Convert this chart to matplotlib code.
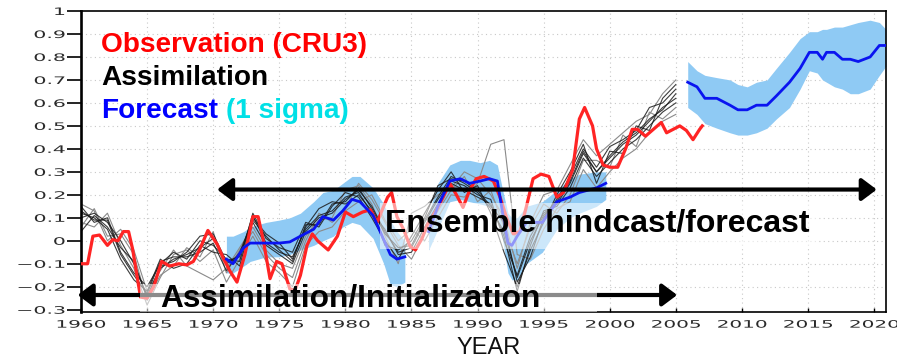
import numpy as np
import matplotlib
matplotlib.use("Agg")
import matplotlib.pyplot as plt
from matplotlib.patches import Rectangle
from matplotlib.patheffects import AbstractPathEffect
from matplotlib.transforms import Affine2D
from matplotlib.path import Path

# ---------------- data ----------------
obs_year = [1960.0, 1960.5, 1960.9, 1961.4, 1962.0, 1962.4, 1962.8, 1963.2, 1963.6, 1963.9,
            1964.5, 1965.0, 1965.5, 1966.1, 1966.7, 1967.4, 1968.0, 1968.5, 1969.0, 1969.6,
            1970.3, 1970.8, 1971.3, 1971.8, 1972.4, 1973.0, 1973.4, 1973.8, 1974.3, 1974.8,
            1975.2, 1975.8, 1976.2, 1976.6, 1977.1, 1977.5, 1977.9, 1978.7, 1979.4, 1980.0,
            1980.6, 1981.3, 1981.9, 1982.4, 1982.9, 1983.2, 1983.5, 1983.9, 1984.4, 1984.9,
            1985.3, 1985.8, 1986.2, 1986.9, 1987.4, 1987.9, 1988.4, 1988.9, 1989.4, 1989.9,
            1990.5, 1991.2, 1991.7, 1992.2, 1992.7, 1993.2, 1993.7, 1994.2, 1994.8, 1995.4,
            1996.0, 1996.5, 1997.2, 1997.7, 1998.1, 1998.7, 1999.0, 1999.5, 2000.0, 2000.6,
            2001.2, 2001.7, 2002.1, 2002.7, 2003.0, 2003.6, 2003.9, 2004.3, 2004.8, 2005.3,
            2005.8, 2006.3, 2006.8, 2007.0]
obs_val = [-0.10, -0.10, 0.02, 0.025, -0.02, 0.005, 0.0, 0.04, 0.04, -0.035,
           -0.245, -0.25, -0.20, -0.09, -0.11, -0.10, -0.105, -0.09, -0.035, 0.045,
           -0.015, -0.08, -0.135, -0.18, -0.06, 0.105, 0.105, 0.0, -0.165, -0.09,
           -0.10, -0.21, -0.215, -0.15, -0.02, 0.03, 0.0, -0.04, 0.02, 0.125,
           0.105, 0.125, 0.135, 0.08, 0.15, 0.19, 0.21, 0.105, 0.05, -0.025,
           -0.04, 0.01, 0.07, 0.135, 0.19, 0.25, 0.20, 0.145, 0.22, 0.27,
           0.28, 0.26, 0.19, 0.10, 0.03, 0.04, 0.15, 0.27, 0.29, 0.28,
           0.19, 0.21, 0.31, 0.53, 0.58, 0.50, 0.40, 0.33, 0.32, 0.32,
           0.40, 0.485, 0.485, 0.455, 0.47, 0.50, 0.515, 0.47, 0.485, 0.50,
           0.48, 0.44, 0.485, 0.50]

assim_year = list(range(1960, 2006))
assim_m1 = [0.10, 0.12, 0.08, 0.00, -0.10, -0.24, -0.12, -0.08, -0.06, -0.03, 0.01, -0.10, -0.06, 0.08, -0.02, -0.06,
            -0.10, 0.04, 0.10, 0.12, 0.18, 0.22, 0.15, 0.04, -0.05, -0.03, 0.08, 0.18, 0.26, 0.24, 0.20, 0.18,
            0.00, -0.15, 0.02, 0.12, 0.16, 0.25, 0.38, 0.30, 0.36, 0.42, 0.46, 0.52, 0.58, 0.62]
assim_m2 = [0.15, 0.08, 0.10, -0.05, -0.14, -0.20, -0.10, -0.05, -0.08, 0.00, -0.02, -0.08, -0.09, 0.12, 0.01, -0.03,
            -0.05, 0.08, 0.06, 0.15, 0.21, 0.19, 0.10, 0.00, -0.08, 0.02, 0.12, 0.22, 0.30, 0.21, 0.24, 0.12,
            -0.05, -0.20, -0.04, 0.08, 0.20, 0.30, 0.42, 0.25, 0.39, 0.38, 0.50, 0.48, 0.62, 0.68]
assim_m3 = [0.06, 0.14, 0.02, 0.03, -0.06, -0.26, -0.15, -0.11, -0.03, -0.07, 0.04, -0.14, -0.04, 0.04, -0.06, -0.12,
            -0.16, 0.00, 0.12, 0.08, 0.14, 0.25, 0.18, 0.08, -0.02, -0.08, 0.03, 0.13, 0.22, 0.28, 0.17, 0.22,
            0.06, -0.10, 0.06, 0.16, 0.12, 0.20, 0.35, 0.35, 0.32, 0.46, 0.41, 0.56, 0.53, 0.58]
assim_m4 = [0.12, 0.10, 0.05, -0.08, -0.17, -0.22, -0.08, -0.12, -0.10, -0.02, -0.05, -0.06, -0.11, 0.10, 0.03, -0.01,
            -0.08, 0.06, 0.14, 0.17, 0.16, 0.20, 0.13, -0.02, -0.04, 0.00, 0.10, 0.24, 0.27, 0.26, 0.22, 0.15,
            0.08, -0.18, -0.07, 0.10, 0.18, 0.28, 0.40, 0.32, 0.41, 0.44, 0.48, 0.58, 0.60, 0.66]
assim_m5 = [0.08, 0.06, 0.12, -0.02, -0.12, -0.28, -0.16, -0.06, -0.04, -0.09, -0.04, -0.18, -0.08, 0.02, -0.09, -0.14,
            -0.20, -0.02, 0.04, 0.06, 0.13, 0.17, 0.20, 0.09, 0.00, 0.05, 0.00, 0.10, 0.20, 0.19, 0.25, 0.42,
            0.44, -0.06, -0.08, 0.05, 0.14, 0.17, 0.31, 0.23, 0.30, 0.36, 0.40, 0.47, 0.52, 0.55]
assim_m6 = [0.16, 0.13, 0.00, 0.05, -0.04, -0.22, -0.13, -0.04, -0.11, -0.14, -0.17, -0.12, -0.03, 0.06, -0.04, -0.10,
            -0.12, 0.02, 0.09, 0.10, 0.22, 0.24, 0.16, 0.02, -0.10, 0.12, 0.15, 0.20, 0.23, 0.30, 0.27, 0.20,
            0.10, -0.12, 0.08, 0.20, 0.22, 0.33, 0.44, 0.37, 0.42, 0.47, 0.52, 0.55, 0.64, 0.70]
assim_m7 = [0.04, 0.11, 0.06, -0.03, -0.09, -0.25, -0.11, -0.09, -0.05, 0.02, 0.03, -0.09, -0.07, 0.11, -0.01, -0.05,
            -0.07, 0.05, 0.11, 0.13, 0.19, 0.21, 0.12, 0.05, -0.06, -0.05, 0.06, 0.16, 0.25, 0.22, 0.19, 0.16,
            0.02, -0.22, -0.02, 0.13, 0.15, 0.23, 0.36, 0.28, 0.34, 0.40, 0.44, 0.50, 0.56, 0.60]
assim_m8 = [0.13, 0.09, 0.09, -0.06, -0.15, -0.23, -0.09, -0.07, -0.07, -0.05, -0.01, -0.13, -0.05, 0.09, 0.02, -0.04,
            -0.09, 0.07, 0.07, 0.16, 0.17, 0.23, 0.14, 0.03, -0.03, -0.02, 0.09, 0.19, 0.28, 0.25, 0.21, 0.14,
            0.04, -0.16, 0.00, 0.11, 0.17, 0.26, 0.39, 0.30, 0.37, 0.43, 0.47, 0.53, 0.57, 0.64]
assim_dark = [assim_m1, assim_m2, assim_m4, assim_m7, assim_m8]
assim_light = [assim_m3, assim_m5, assim_m6]

hind1_year = [1971.0, 1971.5, 1972.3, 1972.8, 1974.0, 1975.0, 1975.8, 1976.6, 1977.6, 1978.3,
              1979.1, 1979.8, 1980.5, 1981.1, 1982.1, 1982.9, 1983.4, 1983.9, 1984.5]
hind1_mean = [-0.08, -0.10, -0.03, -0.01, -0.01, -0.01, -0.005, 0.02, 0.05, 0.105,
              0.09, 0.13, 0.18, 0.17, 0.11, 0.005, -0.06, -0.08, -0.07]
hind1_hi = [0.02, 0.02, 0.04, 0.06, 0.08, 0.09, 0.10, 0.12, 0.17, 0.21,
            0.22, 0.25, 0.28, 0.28, 0.23, 0.16, 0.09, 0.04, 0.0]
hind1_lo = [-0.14, -0.14, -0.11, -0.09, -0.07, -0.07, -0.06, -0.04, -0.02, 0.0,
            0.02, 0.06, 0.08, 0.07, 0.01, -0.10, -0.19, -0.20, -0.18]

hind2_year = [1986.3, 1987.0, 1987.9, 1988.7, 1989.4, 1990.2, 1990.9, 1991.5, 1991.9, 1992.3,
              1992.6, 1993.0, 1993.7, 1994.9, 1996.0, 1997.0, 1997.7, 1999.0, 1999.7]
hind2_mean = [0.04, 0.15, 0.26, 0.27, 0.25, 0.26, 0.27, 0.26, 0.12, -0.01,
              -0.02, 0.02, 0.08, 0.08, 0.17, 0.19, 0.21, 0.23, 0.25]
hind2_hi = [0.12, 0.25, 0.33, 0.35, 0.35, 0.34, 0.35, 0.33, 0.22, 0.12,
            0.10, 0.10, 0.15, 0.17, 0.22, 0.27, 0.29, 0.30, 0.30]
hind2_lo = [-0.04, 0.05, 0.17, 0.18, 0.17, 0.16, 0.15, 0.12, 0.0, -0.14,
            -0.17, -0.17, -0.10, -0.05, 0.05, 0.10, 0.12, 0.15, 0.18]

fcst_year = [2005.9, 2006.6, 2007.2, 2008.1, 2009.1, 2009.7, 2010.4, 2011.1, 2011.9, 2012.6,
             2013.6, 2014.4, 2015.1, 2015.7, 2016.1, 2016.4, 2017.0, 2017.6, 2018.2, 2018.8,
             2019.7, 2020.4, 2020.9]
fcst_mean = [0.69, 0.67, 0.62, 0.62, 0.59, 0.57, 0.57, 0.59, 0.59, 0.63,
             0.69, 0.75, 0.82, 0.82, 0.79, 0.82, 0.82, 0.79, 0.79, 0.78,
             0.80, 0.85, 0.85]
fcst_hi = [0.78, 0.74, 0.72, 0.71, 0.70, 0.68, 0.67, 0.69, 0.70, 0.75,
           0.82, 0.88, 0.91, 0.91, 0.92, 0.92, 0.93, 0.93, 0.94, 0.95,
           0.96, 0.95, 0.92]
fcst_lo = [0.58, 0.55, 0.51, 0.49, 0.47, 0.46, 0.46, 0.47, 0.49, 0.53,
           0.58, 0.66, 0.74, 0.73, 0.70, 0.69, 0.67, 0.66, 0.64, 0.64,
           0.66, 0.72, 0.76]

xtick_vals = [1960, 1965, 1970, 1975, 1980, 1985, 1990, 1995, 2000, 2005, 2010, 2015, 2020]
xtick_labels = ["1960", "1965", "1970", "1975", "1980", "1985", "1990", "1995",
                "2000", "2005", "2010", "2015", "2020"]
ytick_vals = [-0.3, -0.2, -0.1, 0.0, 0.1, 0.2, 0.3, 0.4, 0.5, 0.6, 0.7, 0.8, 0.9, 1.0]
ytick_labels = ["\u22120.3", "\u22120.2", "\u22120.1", "0", "0.1", "0.2", "0.3", "0.4",
                "0.5", "0.6", "0.7", "0.8", "0.9", "1"]


# horizontally stretched text (wide NCL-like tick font)
class HStretch(AbstractPathEffect):
    def __init__(self, sx, anchor="center"):
        super().__init__()
        self.sx = sx
        self.anchor = anchor

    def draw_path(self, renderer, gc, tpath, affine, rgbFace=None):
        v = tpath.vertices
        if tpath.codes is not None:
            v = v[tpath.codes != Path.CLOSEPOLY]
        if len(v) == 0:
            return
        if self.anchor == "center":
            cx = 0.5 * (v[:, 0].min() + v[:, 0].max())
        elif self.anchor == "right":
            cx = v[:, 0].max()
        else:
            cx = 0.0
        t = Affine2D().translate(-cx, 0).scale(self.sx, 1.0).translate(cx, 0) + affine
        renderer.draw_path(gc, tpath, t, rgbFace)


W, H = 897, 364
fig = plt.figure(figsize=(W / 100, H / 100), dpi=100)
ax = fig.add_axes([81 / W, 1 - 312 / H, (886 - 81) / W, (312 - 11) / H])
ax.set_xlim(1960, 2020.9)
ax.set_ylim(-0.31, 1.0)

# grid
for xv in xtick_vals[1:]:
    ax.axvline(xv, color="#c8c8c8", lw=0.8, ls=(0, (1, 3)), zorder=0)
for yv in ytick_vals[1:-1]:
    ax.axhline(yv, color="#c8c8c8", lw=0.8, ls=(0, (1, 3)), zorder=0)

shade = "#8fcaf4"
ax.fill_between(hind1_year, hind1_lo, hind1_hi, color=shade, lw=0, zorder=1)
ax.fill_between(hind2_year, hind2_lo, hind2_hi, color=shade, lw=0, zorder=1)
ax.fill_between(fcst_year, fcst_lo, fcst_hi, color=shade, lw=0, zorder=1)

for m in assim_light:
    ax.plot(assim_year, m, color="#8a8a8a", lw=0.8, zorder=2)
for m in assim_dark:
    ax.plot(assim_year, m, color="#1a1a1a", lw=0.8, alpha=0.85, zorder=2.5)

ax.plot(obs_year, obs_val, color="#ff2424", lw=2.3, zorder=3)
ax.plot(hind1_year, hind1_mean, color="#0a14f0", lw=2.0, zorder=4)
ax.plot(hind2_year, hind2_mean, color="#0a14f0", lw=2.0, zorder=4)
ax.plot(fcst_year, fcst_mean, color="#0a14f0", lw=2.0, zorder=4)

# arrows
ax.annotate("", xy=(2020.2, 0.223), xytext=(1970.3, 0.223),
            arrowprops=dict(arrowstyle="<|-|>,head_length=0.6,head_width=0.45",
                            mutation_scale=15, lw=3.0, color="black",
                            shrinkA=0, shrinkB=0), zorder=5)
ax.annotate("", xy=(2005.1, -0.236), xytext=(1959.75, -0.236),
            arrowprops=dict(arrowstyle="<|-|>,head_length=0.6,head_width=0.45",
                            mutation_scale=15, lw=3.0, color="black",
                            shrinkA=0, shrinkB=0), zorder=5, annotation_clip=False)

# translucent bands behind the labels
ax.add_patch(Rectangle((1982.6, -0.035), 33.0, 0.20, facecolor="white", alpha=0.55,
                       lw=0, zorder=6))
ax.add_patch(Rectangle((1964.45, -0.31), 34.6, 0.12, facecolor="white", alpha=0.55,
                       lw=0, zorder=6))

bold = dict(family=["Liberation Sans", "DejaVu Sans"], weight="bold")
ax.text(1983.0, 0.039, "Ensemble hindcast/forecast", fontsize=23, color="black",
        va="baseline", ha="left", zorder=7, **bold)
ax.text(1965.98, -0.288, "Assimilation/Initialization", fontsize=22.8, color="black",
        va="baseline", ha="left", zorder=7, **bold)

# legend-like texts
ax.text(0.0248, 0.864, "Observation (CRU3)", transform=ax.transAxes, fontsize=20.2,
        color="#ff0000", va="baseline", ha="left", zorder=7, **bold)
ax.text(0.0248, 0.754, "Assimilation", transform=ax.transAxes, fontsize=20.2,
        color="black", va="baseline", ha="left", zorder=7, **bold)
t_fc = ax.text(0.0248, 0.645, "Forecast", transform=ax.transAxes, fontsize=20.2,
               color="#0000ff", va="baseline", ha="left", zorder=7, **bold)
ax.annotate("(1 sigma)", xy=(1, 0), xycoords=t_fc, xytext=(6, 0), textcoords="offset points",
            fontsize=20.2, color="#00e0e6", va="bottom", ha="left", zorder=7, **bold)

# axes styling
for side in ["top", "right", "bottom"]:
    ax.spines[side].set_linewidth(1.2)
ax.spines["left"].set_linewidth(1.9)

xl = ax.set_xticks(xtick_vals, xtick_labels)
yl = ax.set_yticks(ytick_vals, ytick_labels)
ax.tick_params(axis="x", direction="in", length=3, width=1.0, pad=5.5,
               labelsize=7.4, labelcolor="#2a2a2a")
ax.tick_params(axis="y", direction="out", length=10, width=1.2, pad=1.5,
               labelsize=7.4, labelcolor="#2a2a2a")
for lab in ax.get_xticklabels():
    lab.set_path_effects([HStretch(1.95, "center")])
for lab in ax.get_yticklabels():
    lab.set_path_effects([HStretch(2.0, "right")])

ax.set_xlabel("YEAR", fontsize=17, family=["Liberation Sans", "DejaVu Sans"], color="#111111")
ax.xaxis.set_label_coords(0.506, -0.083)

fig.savefig("out.png", dpi=100)
